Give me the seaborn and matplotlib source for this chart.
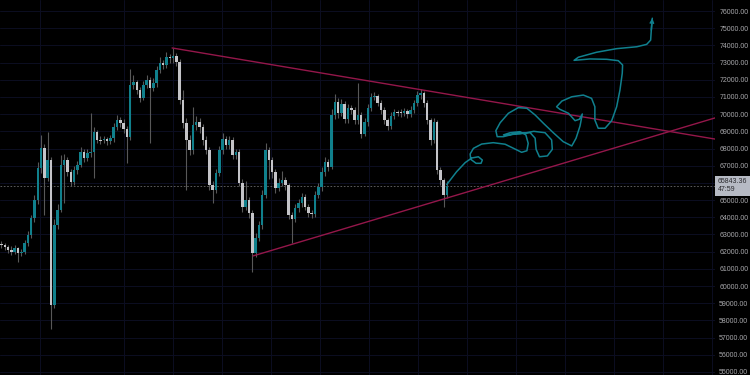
import numpy as np
import pandas as pd
import matplotlib
matplotlib.use("Agg")
import matplotlib.pyplot as plt
import matplotlib.transforms as mtransforms
import seaborn as sns

# ---------------- data ----------------
opens = [62450, 62390, 62270, 62100, 61980, 62210, 61920, 61980, 62500, 62970,
         63960, 65010, 66870, 68030, 66290, 67330, 58900, 63550, 64420, 67040,
         67330, 66630, 66050, 66750, 67040, 67800, 67450, 67740, 67800, 68960,
         68500, 68470, 68550, 68440, 68610, 69250, 69660, 69490, 69140, 68670,
         71700, 71870, 71400, 70940, 71700, 71990, 71520, 71810, 72570, 72980,
         72860, 73320, 73270, 73380, 73030, 70820, 69490, 68500, 67910, 69370,
         69540, 69250, 68500, 67910, 65880, 65590, 66580, 67910, 68550, 68210,
         68500, 67620, 67800, 66000, 64600, 65010, 64250, 61920, 62800, 63550,
         65300, 67910, 67330, 66630, 65700, 66000, 66170, 65880, 64130, 63900,
         64540, 64830, 65180, 64600, 64250, 64190, 65300, 65760, 66630, 67220,
         66930, 69950, 70710, 70070, 70590, 69720, 70360, 70240, 69660, 69950,
         68850, 69540, 70360, 71000, 71060, 70650, 70240, 69660, 69310, 69890,
         70120, 70100, 70070, 70180, 70010, 70240, 70650, 71110, 71230, 70650,
         69660, 68500, 69540, 66750, 66170, 65300]

closes = [62390, 62270, 62100, 61980, 62210, 61920, 61980, 62500, 62970, 63960,
          65010, 66870, 68030, 66290, 67330, 58900, 63550, 64420, 67040, 67330,
          66630, 66050, 66750, 67040, 67800, 67450, 67740, 67800, 68960, 68500,
          68470, 68550, 68440, 68610, 69250, 69660, 69490, 69140, 68670, 71700,
          71870, 71400, 70940, 71700, 71990, 71520, 71810, 72570, 72980, 72860,
          73320, 73270, 73380, 73030, 70820, 69490, 68500, 67910, 69370, 69540,
          69250, 68500, 67910, 65880, 65590, 66580, 67910, 68550, 68210, 68500,
          67620, 67800, 66000, 64600, 65010, 64250, 61920, 62800, 63550, 65300,
          67910, 67330, 66630, 65700, 66000, 66170, 65880, 64130, 63900, 64540,
          64830, 65180, 64600, 64250, 64190, 65300, 65760, 66630, 67220, 66930,
          69950, 70710, 70070, 70590, 69720, 70360, 70240, 69660, 69950, 68850,
          69540, 70360, 71000, 71060, 70650, 70240, 69660, 69310, 69890, 70120,
          70100, 70070, 70180, 70010, 70240, 70650, 71110, 71230, 70650, 69660,
          68500, 69540, 66750, 66170, 65300, 65843.36]

highs = [62600, 62520, 62400, 62330, 62380, 62300, 62150, 62650, 63200, 64150,
         65300, 67200, 68790, 68250, 68960, 67500, 63900, 64800, 67600, 67700,
         67500, 66800, 67000, 67250, 68100, 67950, 68000, 70070, 69250, 69100,
         68700, 68750, 68680, 68800, 69500, 69950, 69850, 69700, 69300, 72630,
         72300, 72000, 71600, 71950, 72280, 72150, 72100, 72800, 73300, 73150,
         73600, 73500, 73850, 73550, 73200, 71400, 69800, 68800, 70400, 69900,
         69750, 69400, 68700, 68100, 66100, 66800, 68150, 68900, 68700, 68700,
         68650, 68000, 67950, 66200, 66100, 65200, 64400, 63100, 63800, 65600,
         68320, 68100, 67500, 66800, 66300, 66700, 66350, 66000, 64300, 64750,
         65050, 65400, 65350, 64800, 64450, 65500, 66000, 66900, 67500, 67400,
         70300, 71200, 70950, 70900, 70750, 70600, 70550, 70400, 71810, 70100,
         69800, 70600, 71250, 71300, 71200, 70800, 70400, 69800, 70100, 70300,
         70250, 70300, 70350, 70300, 70450, 70850, 71350, 71460, 71350, 70800,
         69800, 69750, 69650, 66900, 66300, 66100]

lows = [62200, 62100, 61950, 61800, 61850, 61400, 61750, 61850, 62350, 62800,
        63700, 64800, 66600, 64130, 66100, 57500, 58700, 63300, 64300, 64830,
        66400, 65800, 65900, 66500, 66900, 67200, 67300, 67500, 66290, 68300,
        68250, 68300, 68200, 68250, 68400, 69050, 69250, 68900, 67160, 68500,
        71450, 71200, 70700, 70800, 71500, 68320, 71350, 71600, 72400, 72600,
        72700, 73000, 73000, 72800, 70600, 69200, 65590, 67600, 67700, 69100,
        68900, 68200, 67700, 65600, 64830, 65400, 66400, 67700, 67950, 68000,
        67400, 67400, 65800, 64300, 64400, 63950, 60820, 61700, 62600, 63300,
        65100, 66200, 66300, 65400, 65500, 65800, 65600, 63900, 62500, 63700,
        64300, 64600, 64400, 64000, 63950, 64000, 65100, 65550, 66400, 66700,
        66800, 69700, 69800, 69900, 69500, 69500, 70000, 69400, 69450, 68600,
        68700, 69300, 70200, 70800, 70450, 70000, 69450, 69100, 69150, 69700,
        69900, 69850, 69900, 69800, 69850, 70050, 70500, 70900, 70400, 69400,
        68200, 68300, 66500, 65900, 64600, 65100]

last_price = 65843.36
countdown = "47:59"

# triangle trend lines (bar index, price)
upper_idx = [51.7, 216.2]
upper_price = [73850, 68550]
lower_idx = [76.2, 216.2]
lower_price = [61750, 69780]

# hand-drawn projection path (bar index, price)
curve_idx = [134.9, 137.9, 140.5, 142.5, 144.5, 145.7, 145.3, 143.8, 142.2, 142.0,
             143.0, 145.5, 149.0, 152.6, 155.6, 157.6, 159.2, 159.6, 158.9, 157.1,
             154.1, 152.1, 157.1, 161.3, 164.7, 166.7, 166.9, 165.4, 163.0, 162.0,
             161.7, 160.2, 156.1, 152.1, 150.2, 149.8, 151.1, 153.6, 156.6, 159.2,
             161.7, 164.2, 167.2, 170.2, 172.8, 174.1, 175.3, 176.0, 175.1, 173.8,
             171.8, 169.2, 168.2, 169.8, 172.8, 176.3, 178.8, 179.8, 179.8, 180.8,
             182.9, 184.9, 186.4, 187.4, 188.1, 188.2, 186.9, 183.4, 178.3, 173.5,
             174.8, 180.3, 186.4, 192.5, 195.5, 196.7, 196.9, 197.2]
curve_price = [65900, 66650, 67180, 67450, 67520, 67330, 67140, 67140, 67370, 67680,
               68010, 68260, 68340, 68250, 67970, 67780, 67870, 68300, 68790, 68980,
               68920, 68790, 68850, 69000, 68920, 68500, 67950, 67570, 67520, 67950,
               68600, 68920, 68890, 68690, 68690, 69040, 69500, 70050, 70380, 70340,
               69950, 69470, 68920, 68400, 68150, 68600, 69310, 70010, 69700, 69620,
               70050, 70280, 70430, 70760, 71010, 71110, 70920, 70430, 69660, 69180,
               69180, 69620, 70430, 71400, 72380, 72860, 73110, 73190, 73210, 73130,
               73310, 73600, 73810, 73920, 74060, 74310, 74890, 75580]

price_ticks = list(range(55000, 76001, 1000))
hidden_tick = 66000  # covered by the last-price tag in the reference
vgrid_idx = [11.7, 37.1, 52.0, 66.8, 81.7, 96.5, 111.4, 126.2, 141.1, 155.9,
             170.8, 185.6, 200.5, 215.3]

# ---------------- styling ----------------
BG = "#000000"
GRID = "#0c0e22"
BULL = "#10808c"
BEAR = "#c4c4c8"
WICK = "#585858"
TREND = "#94174a"
CURVE = "#10808e"

sns.set_theme(style="dark", rc={
    "axes.facecolor": BG, "figure.facecolor": BG, "savefig.facecolor": BG,
    "grid.color": GRID, "axes.edgecolor": BG,
})
plt.rcParams["font.family"] = ["Liberation Sans", "DejaVu Sans"]

df = pd.DataFrame({"open": opens, "high": highs, "low": lows, "close": closes})
df["idx"] = np.arange(len(df))
df["bull"] = df["close"] >= df["open"]

fig = plt.figure(figsize=(7.5, 3.75), dpi=100)
ax = fig.add_axes([0, 0, 715 / 750, 1])
ax.set_facecolor(BG)

# grid
ax.set_yticks(price_ticks)
ax.set_xticks(vgrid_idx)
ax.grid(True, color=GRID, lw=0.7)
ax.set_axisbelow(True)

# wicks
ax.vlines(df["idx"], df["low"], df["high"], color=WICK, lw=0.8, zorder=2)
# bodies
for bull, color in [(True, BULL), (False, BEAR)]:
    d = df[df["bull"] == bull]
    h = (d["close"] - d["open"]).to_numpy()
    h = np.where(np.abs(h) < 40, np.sign(h + 1e-9) * 40, h)
    ax.bar(d["idx"], h, bottom=d["open"], width=0.74, color=color,
           edgecolor="none", linewidth=0, zorder=3)

# last price dashed line
ax.axhline(last_price, color="#6a6a6a", lw=0.6, ls=(0, (2, 2)), zorder=1)

# trend lines
sns.lineplot(x=upper_idx, y=upper_price, ax=ax, color=TREND, lw=1.0,
             sort=False, estimator=None, zorder=4)
sns.lineplot(x=lower_idx, y=lower_price, ax=ax, color=TREND, lw=1.0,
             sort=False, estimator=None, zorder=4)

# projection path
sns.lineplot(x=curve_idx, y=curve_price, ax=ax, color=CURVE, lw=1.1,
             sort=False, estimator=None, zorder=5,
             solid_joinstyle="round", solid_capstyle="round")
ax.annotate("", xy=(curve_idx[-1], curve_price[-1]),
            xytext=(curve_idx[-2], curve_price[-2]),
            arrowprops=dict(arrowstyle="->", color=CURVE, lw=1.1,
                            mutation_scale=6, shrinkA=0, shrinkB=0),
            zorder=5)

ax.set_xlim(-0.45, 216.2)
ax.set_ylim(54825, 76640)

ax.yaxis.tick_right()
ax.set_yticklabels(["" if v == hidden_tick else f"{v:.2f}" for v in price_ticks])
ax.tick_params(axis="y", length=0, pad=3, labelsize=5, labelcolor="#a9a9ad")
ax.tick_params(axis="x", length=0, labelbottom=False)
for s in ax.spines.values():
    s.set_visible(False)
ax.set_xlabel("")
ax.set_ylabel("")

# price tag
trans = mtransforms.blended_transform_factory(ax.transAxes, ax.transData)
ax.text(1.004, last_price, f"{last_price:.2f}\n{countdown}", transform=trans,
        ha="left", va="center", fontsize=5, color="#2a2a2e", linespacing=1.25,
        bbox=dict(boxstyle="square,pad=0.35", fc="#b6bac4", ec="none"),
        zorder=10, clip_on=False)

fig.savefig("out.png", dpi=100, facecolor=BG)
